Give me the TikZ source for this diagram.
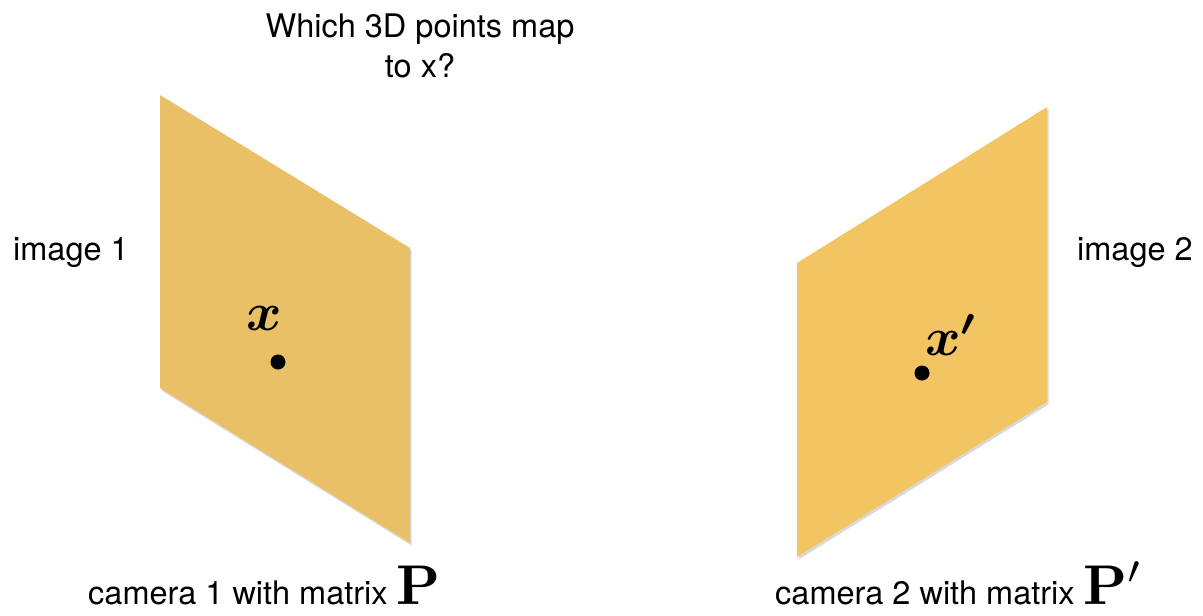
\documentclass[tikz,border=0pt]{standalone}
\usepackage{graphicx}
\usepackage{bm}
\usepackage[no-math]{fontspec}
\setmainfont{TeX Gyre Heros}
\usetikzlibrary{shadows}
\definecolor{planeA}{RGB}{234,192,102}
\definecolor{planeB}{RGB}{243,196,98}
\newcommand{\bigmath}[2]{{\fontsize{10}{12}\selectfont\scalebox{#1}{$#2$}}}
\tikzset{
  lbl/.style={anchor=base, inner sep=0pt, font=\fontsize{32.5}{38}\selectfont},
  plane/.style={draw=none, drop shadow={opacity=0.3, shadow xshift=1.5pt, shadow yshift=-2.5pt}},
  pt/.style={circle, fill=black, minimum size=15pt, inner sep=0pt},
  sym/.style={inner sep=0pt, anchor=base west}
}
\begin{document}
\begin{tikzpicture}[x=1pt,y=-1pt]
\useasboundingbox (0,0) rectangle (1203,616);
% planes
\fill[planeA, plane] (160,95) -- (410,248) -- (410,543) -- (160,388) -- cycle;
\fill[planeB, plane] (1047,107) -- (1047,402) -- (797,557) -- (797,263) -- cycle;
% points
\node[pt] (x1) at (278,362) {};
\node[pt] (x2) at (922,373) {};
\node[sym] (lx1) at (246,330) {\bigmath{5.4}{\bm{x}}};
\node[sym] (lx2) at (925,355) {\bigmath{5.4}{\bm{x}^{\bm{\prime}}}};
% texts
\node[lbl] (q1) at (420,37) {Which 3D points map};
\node[lbl] (q2) at (420,77) {to x?};
\node[lbl] (im1) at (71,260) {image 1};
\node[lbl] (im2) at (1135,260) {image 2};
\node[lbl, anchor=base west] (c1) at (88,604) {camera 1 with matrix \bigmath{5.6}{\mathbf{P}}};
\node[lbl, anchor=base west] (c2) at (775,604) {camera 2 with matrix \bigmath{5.6}{\mathbf{P}^{\prime}}};
\end{tikzpicture}
\end{document}
